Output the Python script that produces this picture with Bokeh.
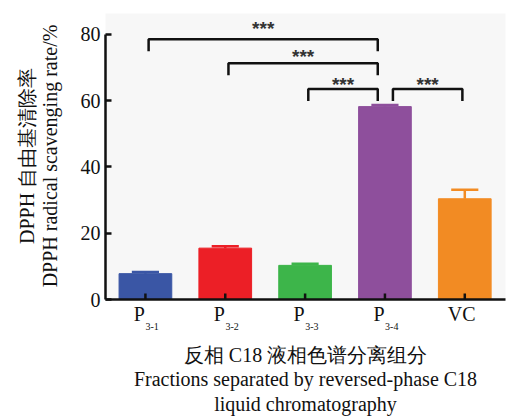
from bokeh.plotting import figure
from bokeh.models import Range1d, FixedTicker, LinearAxis, BoxAnnotation, ColumnDataSource
from bokeh.embed import file_html
from bokeh.resources import INLINE
from bokeh.core.properties import value

# ---------------- data ----------------
categories = ["P3-1", "P3-2", "P3-3", "P3-4", "VC"]
label_main = ["P", "P", "P", "P", "VC"]
label_sub = ["3-1", "3-2", "3-3", "3-4", ""]
means = [7.8, 15.5, 10.3, 58.2, 30.4]
errors = [0.5, 0.6, 0.5, 0.5, 2.7]
colors = ["#3a56a5", "#ec1f26", "#3db54a", "#8e4f9c", "#f28b23"]
y_ticks = [0, 20, 40, 60, 80]
bracket_from = ["P3-1", "P3-2", "P3-3", "P3-4"]
bracket_to = ["P3-4", "P3-4", "P3-4", "VC"]
bracket_y = [78.5, 71.3, 63.5, 63.5]
star_y = [83.3, 74.8, 66.5, 66.5]
bracket_text = ["***", "***", "***", "***"]

y_title = "DPPH 自由基清除率\nDPPH radical scavenging rate/%"
x_title = "反相 C18 液相色谱分离组分\nFractions separated by reversed-phase C18\nliquid chromatography"

SERIF = "Liberation Serif"
INK = "#111111"
idx = list(range(len(categories)))

p = figure(width=509, height=417, output_backend="svg", toolbar_location=None,
           x_range=Range1d(-0.5, 4.51), y_range=Range1d(0, 86.6),
           min_border_left=105, min_border_right=4, min_border_top=12,
           min_border_bottom=117)
p.outline_line_color = None
p.xgrid.visible = False
p.ygrid.visible = False
p.background_fill_color = None
p.border_fill_color = "white"

panel = BoxAnnotation(left=77, right=509, top=13, bottom=337,
                      left_units="canvas", right_units="canvas",
                      top_units="canvas", bottom_units="canvas",
                      fill_color="#f7f7f7", fill_alpha=1.0, line_color=None,
                      level="underlay")
p.add_layout(panel)

# bars
src = ColumnDataSource(dict(x=idx, top=means, color=colors))
p.vbar(x="x", top="top", bottom=0, width=0.66, color="color", source=src)

# error bars
err_top = [m + e for m, e in zip(means, errors)]
p.segment(x0=idx, y0=means, x1=idx, y1=err_top, line_color=colors, line_width=2.5)
p.segment(x0=[i - 0.17 for i in idx], y0=err_top, x1=[i + 0.17 for i in idx],
          y1=err_top, line_color=colors, line_width=2.5)

# category tick marks (inside, at bar centres)
p.segment(x0=idx, y0=[0] * len(idx), x1=idx, y1=[1.8] * len(idx),
          line_color=INK, line_width=2.5)

# significance brackets
drop = 3.6
xs, ys, sx = [], [], []
for a, b, y in zip(bracket_from, bracket_to, bracket_y):
    ia, ib = categories.index(a), categories.index(b)
    xl = ia + (0.1 if a == "P3-4" else 0.04)
    xr = ib - (0.09 if b == "P3-4" else 0.03)
    xs.append([xl, xl, xr, xr])
    ys.append([y - drop, y, y, y - drop])
    sx.append((xl + xr) / 2)
p.multi_line(xs=xs, ys=ys, line_color=INK, line_width=2.5)
p.text(x=sx, y=star_y, text=bracket_text, text_align="center",
       text_baseline="middle", y_offset=5, text_font=value("Liberation Sans"),
       text_font_style="bold", text_font_size="19px", text_color="#333333")

# y axis
ya = p.yaxis[0]
ya.ticker = FixedTicker(ticks=y_ticks)
ya.bounds = (0, 80)
ya.major_tick_in = 6
ya.major_tick_out = 0
ya.minor_tick_line_color = None
ya.axis_line_width = 2.5
ya.axis_line_color = INK
ya.major_tick_line_width = 2.5
ya.major_tick_line_color = INK
ya.major_label_standoff = 5
ya.major_label_text_font = SERIF
ya.major_label_text_font_size = "20px"
ya.major_label_text_color = INK
ya.axis_label = y_title
ya.axis_label_text_font = SERIF
ya.axis_label_text_font_size = "20px"
ya.axis_label_text_font_style = "normal"
ya.axis_label_text_color = INK
ya.axis_label_text_line_height = 1.03
ya.axis_label_standoff = 17

# x axis: main labels ("P", "VC"), placed just left of the bar centre
main_pos = [round(i - (0.075 if s else 0.04), 3) for i, s in zip(idx, label_sub)]
xa = p.xaxis[0]
xa.ticker = FixedTicker(ticks=main_pos)
xa.major_label_overrides = {pos: m for pos, m in zip(main_pos, label_main)}
xa.major_tick_line_color = None
xa.minor_tick_line_color = None
xa.axis_line_width = 2.5
xa.axis_line_color = INK
xa.major_label_standoff = -3
xa.major_label_text_font = SERIF
xa.major_label_text_font_size = "20px"
xa.major_label_text_color = INK

# x axis: subscripts, and the axis title
sub_idx = [i for i, s in zip(idx, label_sub) if s]
sub_pos = [round(i + 0.085, 3) for i in sub_idx]
xb = LinearAxis(ticker=FixedTicker(ticks=sub_pos),
                major_label_overrides={pos: label_sub[i] for pos, i in zip(sub_pos, sub_idx)})
xb.axis_line_color = None
xb.major_tick_line_color = None
xb.minor_tick_line_color = None
xb.major_label_standoff = -11
xb.major_label_text_font = SERIF
xb.major_label_text_font_size = "10px"
xb.major_label_text_color = INK
xb.axis_label = x_title
xb.axis_label_text_font = SERIF
xb.axis_label_text_font_size = "20px"
xb.axis_label_text_font_style = "normal"
xb.axis_label_text_color = INK
xb.axis_label_text_line_height = 1.12
xb.axis_label_standoff = 11
p.add_layout(xb, "below")

open("out.html", "w").write(file_html(p, INLINE))
